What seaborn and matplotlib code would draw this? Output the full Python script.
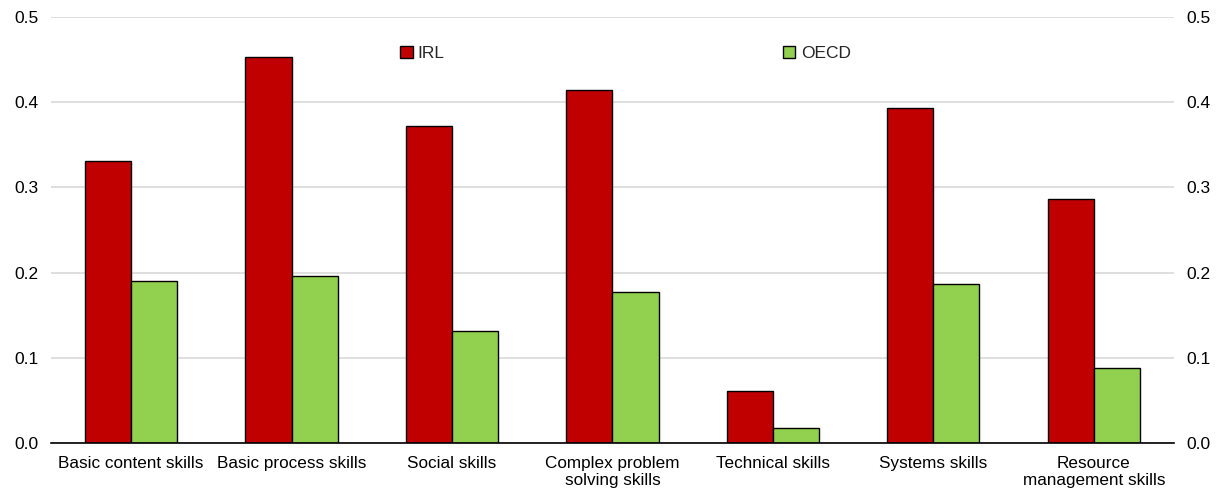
"""
plot.py
Skill gaps by skill group: Ireland vs OECD, grouped bar chart.
"""

import matplotlib
matplotlib.use("Agg")
import matplotlib.pyplot as plt
import seaborn as sns
import pandas as pd
from matplotlib.ticker import FixedLocator

# Chart data
categories = [
    "Basic content skills",
    "Basic process skills",
    "Social skills",
    "Complex problem\nsolving skills",
    "Technical skills",
    "Systems skills",
    "Resource\nmanagement skills",
]
irl = [0.331, 0.453, 0.372, 0.414, 0.061, 0.393, 0.286]
oecd = [0.190, 0.196, 0.131, 0.177, 0.018, 0.187, 0.088]
series = ["IRL", "OECD"]
y_ticks = [0.0, 0.1, 0.2, 0.3, 0.4, 0.5]

df = pd.DataFrame({
    "category": categories * 2,
    "value": irl + oecd,
    "series": [series[0]] * len(categories) + [series[1]] * len(categories),
})

sns.set_theme(style="white")
plt.rcParams["font.family"] = ["Liberation Sans", "DejaVu Sans"]

fig = plt.figure(figsize=(12.31, 4.95), dpi=100)
ax = fig.add_axes([0.0414, 0.105, 0.9123, 0.8607])

sns.barplot(data=df, x="category", y="value", hue="series", order=categories,
            hue_order=series, palette=["#C00000", "#92D050"], width=0.575,
            edgecolor="black", linewidth=1.0, saturation=1, ax=ax)

ax.set_xlim(-0.5, len(categories) - 0.5)
ax.set_ylim(0, 0.5)
ax.set_yticks(y_ticks)
ax.set_yticklabels([f"{t:.1f}" for t in y_ticks])
ax.yaxis.grid(True, color="#d9d9d9", linewidth=1.2)
ax.set_axisbelow(True)
ax.set_xlabel("")
ax.set_ylabel("")

for side in ["left", "right", "top"]:
    ax.spines[side].set_visible(False)
ax.spines["bottom"].set_color("black")
ax.spines["bottom"].set_linewidth(1.2)

# category separator ticks on the x axis
ax.xaxis.set_minor_locator(FixedLocator([i - 0.5 for i in range(len(categories) + 1)]))
ax.tick_params(axis="x", which="major", length=0, labelsize=12.3, pad=9, colors="black")
ax.tick_params(axis="x", which="minor", length=5, width=1.2, direction="in", color="black")
ax.tick_params(axis="y", length=0, labelsize=12.5, labelleft=True, labelright=True,
               pad=9, colors="black")

leg = ax.legend(loc="upper left", bbox_to_anchor=(0.305, 0.948), ncol=2, frameon=False,
                fontsize=12.5, handlelength=0.7, handleheight=0.7, handletextpad=0.3,
                columnspacing=19.5, borderaxespad=0)
for h in leg.legend_handles:
    h.set_edgecolor("black")
    h.set_linewidth(1.0)

plt.savefig("out.png", dpi=100)
